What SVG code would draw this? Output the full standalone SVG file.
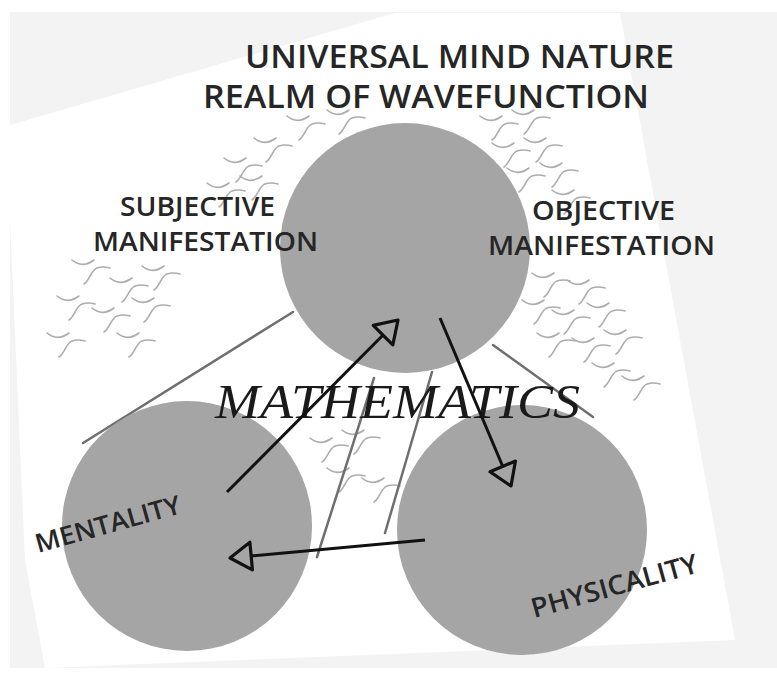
<svg xmlns="http://www.w3.org/2000/svg" xmlns:xlink="http://www.w3.org/1999/xlink" width="777" height="681" viewBox="0 0 777 681">
<style>
.cap{font-family:"Open Sans","Noto Sans","DejaVu Sans",sans-serif;font-weight:600;fill:#262626;}
.math{font-family:"Liberation Serif","DejaVu Serif",serif;font-style:italic;fill:#1a1a1a;}
.node{fill:#a5a5a5;}
.gl{stroke:#6f6f6f;stroke-width:2.5;fill:none;stroke-linecap:round;}
.arr{stroke:#111;stroke-width:3;fill:none;marker-end:url(#head);}
.sq{stroke:#adadad;stroke-width:1.6;fill:none;stroke-linecap:round;}
</style>
<defs>
<marker id="head" markerUnits="userSpaceOnUse" markerWidth="30" markerHeight="34" viewBox="-2 -16 26 32" refX="20" refY="0" orient="auto">
<path d="M0,-13 L20,0 L0,13 Z" fill="#a5a5a5" stroke="#111" stroke-width="3" stroke-linejoin="round"/>
</marker>
<symbol id="w" overflow="visible">
<path class="sq" d="M-8,-2 c6,5 14,6 22,0"/>
<path class="sq" d="M4,22 C10,18 11,8 17,6 S26,5 30,6"/>
</symbol>
</defs>
<rect width="777" height="681" fill="#ffffff"/>
<rect x="10" y="12" width="767" height="656" fill="#f3f3f3"/>
<polygon points="10,125 395,13 620,13 735,640 45,668 25,560 10,220" fill="#ffffff"/>
<g id="waves">
<use xlink:href="#w" x="232" y="160"/><use xlink:href="#w" x="262" y="140"/><use xlink:href="#w" x="295" y="118"/>
<use xlink:href="#w" x="335" y="112"/><use xlink:href="#w" x="215" y="185"/><use xlink:href="#w" x="248" y="178"/>
<use xlink:href="#w" x="488" y="118"/><use xlink:href="#w" x="520" y="112"/><use xlink:href="#w" x="500" y="145"/>
<use xlink:href="#w" x="532" y="140"/><use xlink:href="#w" x="515" y="170"/><use xlink:href="#w" x="548" y="165"/>
<use xlink:href="#w" x="560" y="192"/>
<use xlink:href="#w" x="80" y="262"/><use xlink:href="#w" x="118" y="280"/><use xlink:href="#w" x="150" y="268"/>
<use xlink:href="#w" x="65" y="298"/><use xlink:href="#w" x="100" y="310"/><use xlink:href="#w" x="140" y="300"/>
<use xlink:href="#w" x="55" y="335"/><use xlink:href="#w" x="125" y="335"/>
<use xlink:href="#w" x="540" y="275"/><use xlink:href="#w" x="575" y="282"/><use xlink:href="#w" x="530" y="302"/>
<use xlink:href="#w" x="560" y="312"/><use xlink:href="#w" x="595" y="305"/><use xlink:href="#w" x="545" y="335"/>
<use xlink:href="#w" x="580" y="340"/><use xlink:href="#w" x="612" y="332"/><use xlink:href="#w" x="600" y="365"/>
<use xlink:href="#w" x="630" y="378"/>
<use xlink:href="#w" x="318" y="440"/><use xlink:href="#w" x="350" y="432"/><use xlink:href="#w" x="335" y="470"/>
<use xlink:href="#w" x="370" y="480"/>
</g>
<g id="connectors">
<line class="gl" x1="293" y1="312" x2="83" y2="443"/>
<line class="gl" x1="493" y1="345" x2="593" y2="417"/>
<line class="gl" x1="374" y1="378" x2="317" y2="557"/>
<line class="gl" x1="432" y1="372" x2="385" y2="533"/>
</g>
<g id="node-universal">
<circle class="node" cx="405" cy="248" r="125"/>
<text class="cap" x="245" y="68" font-size="33" textLength="429" lengthAdjust="spacingAndGlyphs">UNIVERSAL MIND NATURE</text>
<text class="cap" x="203" y="108" font-size="33" textLength="446" lengthAdjust="spacingAndGlyphs">REALM OF WAVEFUNCTION</text>
</g>
<g id="node-mentality">
<circle class="node" cx="187" cy="526" r="125"/>
<text class="cap" x="38" y="553" font-size="26" textLength="150" lengthAdjust="spacingAndGlyphs" transform="rotate(-15.5 38 553)">MENTALITY</text>
</g>
<g id="node-physicality">
<circle class="node" cx="522" cy="530" r="125"/>
<text class="cap" x="534" y="618" font-size="27" textLength="172" lengthAdjust="spacingAndGlyphs" transform="rotate(-15.5 534 618)">PHYSICALITY</text>
</g>
<g id="label-subjective">
<text class="cap" x="120" y="216" font-size="27" textLength="155" lengthAdjust="spacingAndGlyphs">SUBJECTIVE</text>
<text class="cap" x="93" y="251" font-size="27" textLength="225" lengthAdjust="spacingAndGlyphs">MANIFESTATION</text>
</g>
<g id="label-objective">
<text class="cap" x="532" y="220" font-size="27" textLength="143" lengthAdjust="spacingAndGlyphs">OBJECTIVE</text>
<text class="cap" x="488" y="255" font-size="27" textLength="227" lengthAdjust="spacingAndGlyphs">MANIFESTATION</text>
</g>
<g id="label-mathematics">
<text class="math" x="215" y="418" font-size="48" textLength="365" lengthAdjust="spacingAndGlyphs">MATHEMATICS</text>
</g>
<g id="arrows">
<line class="arr" x1="227" y1="492" x2="398" y2="320"/>
<line class="arr" x1="440" y1="318" x2="511" y2="486"/>
<line class="arr" x1="425" y1="540" x2="230" y2="558"/>
</g>
</svg>
